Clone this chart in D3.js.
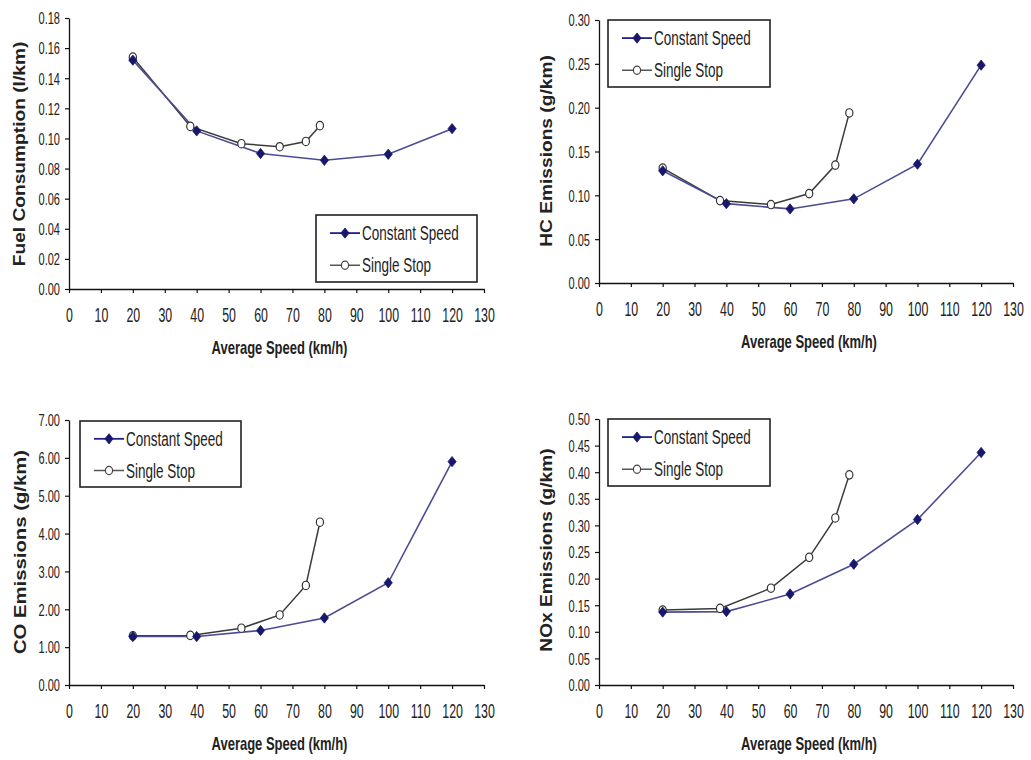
<!DOCTYPE html>
<html>
<head>
<meta charset="utf-8">
<script src="https://cdn.jsdelivr.net/npm/d3@7"></script>
<style>
  html, body { margin: 0; padding: 0; background: #ffffff; }
  svg { display: block; }
  text { font-family: "Liberation Sans", Arial, sans-serif; fill: #222; }
</style>
</head>
<body>
<svg id="chart" width="1031" height="760"></svg>
<script>
// ---------------- DATA ----------------
const seriesNames = ["Constant Speed", "Single Stop"];
const xTicks = [0, 10, 20, 30, 40, 50, 60, 70, 80, 90, 100, 110, 120, 130];

const constantSpeed = [20, 40, 60, 80, 100, 120];
const singleStopSpeed = [20, 38, 54, 66, 74.2, 78.6];

const fuelConstant = [0.152, 0.105, 0.090, 0.0855, 0.0895, 0.1065];
const fuelSingle   = [0.154, 0.108, 0.0965, 0.0945, 0.098, 0.1085];
const fuelTicks = [0, 0.02, 0.04, 0.06, 0.08, 0.10, 0.12, 0.14, 0.16, 0.18];

const hcConstant = [0.128, 0.0905, 0.0845, 0.0960, 0.1355, 0.2485];
const hcSingle   = [0.131, 0.0940, 0.0895, 0.1020, 0.1345, 0.1940];
const hcTicks = [0, 0.05, 0.10, 0.15, 0.20, 0.25, 0.30];

const coConstant = [1.28, 1.28, 1.44, 1.77, 2.70, 5.90];
const coSingle   = [1.30, 1.31, 1.50, 1.85, 2.63, 4.30];
const coTicks = [0, 1, 2, 3, 4, 5, 6, 7];

const noxConstant = [0.137, 0.138, 0.171, 0.227, 0.311, 0.437];
const noxSingle   = [0.141, 0.144, 0.182, 0.240, 0.314, 0.395];
const noxTicks = [0, 0.05, 0.10, 0.15, 0.20, 0.25, 0.30, 0.35, 0.40, 0.45, 0.50];

const panels = [
  { yTitle: "Fuel Consumption (l/km)", constant: fuelConstant, single: fuelSingle, ticks: fuelTicks, yMax: 0.18,
    left: 69, right: 484, top: 18, bottom: 289, titleX: 20, titleY: 154, titleScale: 1.37,
    legend: { x: 316, y: 215, w: 161, h: 67 } },
  { yTitle: "HC Emissions  (g/km)", constant: hcConstant, single: hcSingle, ticks: hcTicks, yMax: 0.30,
    left: 599, right: 1013, top: 20, bottom: 283, titleX: 547, titleY: 151, titleScale: 1.37,
    legend: { x: 608, y: 20, w: 162, h: 67 } },
  { yTitle: "CO Emissions (g/km)", constant: coConstant, single: coSingle, ticks: coTicks, yMax: 7,
    left: 69, right: 484, top: 420, bottom: 685, titleX: 20, titleY: 552, titleScale: 1.45,
    legend: { x: 80, y: 421, w: 161, h: 66 } },
  { yTitle: "NOx Emissions  (g/km)", constant: noxConstant, single: noxSingle, ticks: noxTicks, yMax: 0.50,
    left: 599, right: 1013, top: 419, bottom: 685, titleX: 547, titleY: 550, titleScale: 1.37,
    legend: { x: 608, y: 419, w: 162, h: 67 } }
];

// ---------------- STYLE ----------------
const constLineColor = "#4c4c94";
const constMarkColor = "#17176e";
const singleLineColor = "#3a3a3a";

const svg = d3.select("#chart");

function diamond(sel) {
  sel.append("path")
    .attr("d", d3.symbol().type(d3.symbolSquare).size(34)())
    .attr("fill", constMarkColor)
    .attr("stroke", constMarkColor)
    .attr("stroke-width", 0.6);
}

function drawPanel(p) {
  const g = svg.append("g");
  const x = d3.scaleLinear().domain([0, 130]).range([p.left, p.right]);
  const y = d3.scaleLinear().domain([0, p.yMax]).range([p.bottom, p.top]);

  // y axis
  const ya = g.append("g").attr("transform", `translate(${p.left},0)`)
    .call(d3.axisLeft(y).tickValues(p.ticks).tickSize(4).tickSizeOuter(0)
      .tickFormat(d3.format(".2f")));
  ya.select(".domain").attr("stroke", "#111").attr("stroke-width", 1.3);
  ya.selectAll(".tick line").attr("stroke", "#111").attr("stroke-width", 1.2);
  ya.selectAll(".tick text")
    .attr("x", 0).attr("y", 0).attr("dy", null)
    .attr("dominant-baseline", "central")
    .attr("text-anchor", "end")
    .style("font-size", "12px")
    .attr("transform", "translate(-9,0) scale(0.92,1.35)")
    .attr("fill", "#222");

  // x axis
  const xa = g.append("g").attr("transform", `translate(0,${p.bottom})`)
    .call(d3.axisBottom(x).tickValues(xTicks).tickSize(4).tickSizeOuter(0)
      .tickFormat(d3.format("d")));
  xa.select(".domain").attr("stroke", "#111").attr("stroke-width", 1.4);
  xa.selectAll(".tick line").attr("stroke", "#111").attr("stroke-width", 1.2);
  xa.selectAll(".tick text")
    .attr("x", 0).attr("y", 0).attr("dy", null)
    .attr("dominant-baseline", "central")
    .attr("text-anchor", "middle")
    .style("font-size", "13px")
    .attr("transform", "translate(0,26) scale(0.95,1.5)")
    .attr("fill", "#222");

  // x title
  g.append("text")
    .attr("x", 0).attr("y", 0)
    .attr("text-anchor", "middle")
    .attr("dominant-baseline", "central")
    .attr("transform", `translate(${(x(0) + x(130)) / 2 + 3},${p.bottom + 59}) scale(1.0,1.4)`)
    .style("font-size", "13px").style("font-weight", "bold")
    .attr("fill", "#222")
    .text("Average Speed (km/h)");

  // y title
  g.append("text")
    .attr("x", 0).attr("y", 0)
    .attr("text-anchor", "middle")
    .attr("dominant-baseline", "central")
    .attr("transform", `translate(${p.titleX},${p.titleY}) rotate(-90) scale(${p.titleScale},1.15)`)
    .style("font-size", "14px").style("font-weight", "bold")
    .attr("fill", "#222")
    .text(p.yTitle);

  const constData = constantSpeed.map((s, i) => [s, p.constant[i]]);
  const singleData = singleStopSpeed.map((s, i) => [s, p.single[i]]);
  const line = d3.line().x(d => x(d[0])).y(d => y(d[1]));

  // single stop series
  g.append("path").datum(singleData)
    .attr("d", line).attr("fill", "none")
    .attr("stroke", singleLineColor).attr("stroke-width", 1.5);
  // constant speed series
  g.append("path").datum(constData)
    .attr("d", line).attr("fill", "none")
    .attr("stroke", constLineColor).attr("stroke-width", 1.6);

  g.selectAll(".ss").data(singleData).enter().append("ellipse")
    .attr("cx", d => x(d[0])).attr("cy", d => y(d[1]))
    .attr("rx", 3.6).attr("ry", 4.2)
    .attr("fill", "#fff").attr("stroke", "#333").attr("stroke-width", 1.2);

  g.selectAll(".cs").data(constData).enter().append("g")
    .attr("transform", d => `translate(${x(d[0])},${y(d[1])}) scale(1,1.25) rotate(45)`)
    .call(diamond);

  // legend
  const L = p.legend;
  const lg = g.append("g").attr("transform", `translate(${L.x},${L.y})`);
  lg.append("rect").attr("width", L.w).attr("height", L.h)
    .attr("fill", "#fff").attr("stroke", "#222").attr("stroke-width", 1.6);
  const rows = [L.h * 0.27, L.h * 0.75];
  lg.append("line").attr("x1", 14).attr("x2", 44).attr("y1", rows[0]).attr("y2", rows[0])
    .attr("stroke", "#22228a").attr("stroke-width", 1.8);
  lg.append("g").attr("transform", `translate(29,${rows[0]}) scale(1,1.25) rotate(45)`).call(diamond);
  lg.append("line").attr("x1", 14).attr("x2", 44).attr("y1", rows[1]).attr("y2", rows[1])
    .attr("stroke", "#555").attr("stroke-width", 1.5);
  lg.append("ellipse").attr("cx", 29).attr("cy", rows[1]).attr("rx", 3.6).attr("ry", 4.2)
    .attr("fill", "#fff").attr("stroke", "#444").attr("stroke-width", 1.2);
  seriesNames.forEach((n, i) => {
    lg.append("text").attr("x", 0).attr("y", 0)
      .attr("dominant-baseline", "central")
      .attr("transform", `translate(46,${rows[i]}) scale(0.9,1.4)`)
      .style("font-size", "15px")
      .attr("fill", "#222")
      .text(n);
  });
}

panels.forEach(drawPanel);
</script>
</body>
</html>
